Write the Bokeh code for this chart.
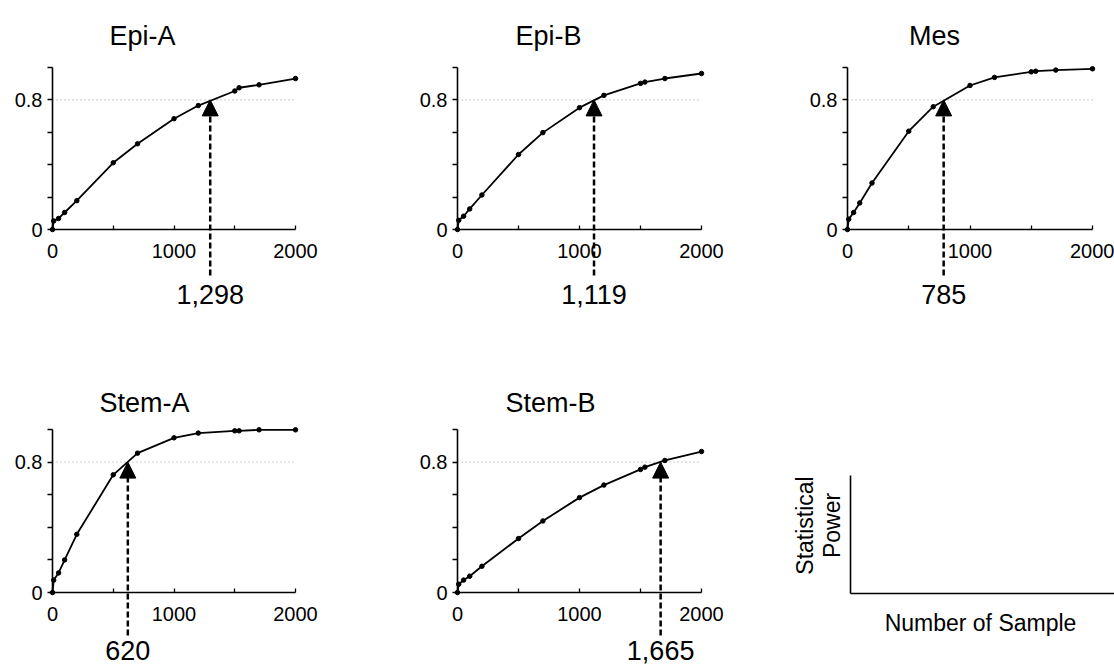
import math
from bokeh.plotting import figure
from bokeh.models import Range1d, LinearAxis, FixedTicker, Label, Arrow, NormalHead
from bokeh.layouts import row, column
from bokeh.embed import file_html
from bokeh.resources import INLINE

# ---------------- data ----------------
PANEL_NAMES = ["Epi-A", "Epi-B", "Mes", "Stem-A", "Stem-B"]
SAMPLE_SIZES = [0, 10, 50, 100, 200, 500, 700, 1000, 1200, 1500, 1536, 1700, 2000]
POWER_EPI_A = [0, 0.053, 0.068, 0.105, 0.178, 0.412, 0.529, 0.684, 0.765, 0.855, 0.875, 0.893, 0.932]
POWER_EPI_B = [0, 0.057, 0.082, 0.127, 0.213, 0.463, 0.598, 0.752, 0.828, 0.902, 0.910, 0.932, 0.963]
POWER_MES = [0, 0.064, 0.105, 0.164, 0.287, 0.607, 0.758, 0.889, 0.939, 0.973, 0.977, 0.984, 0.992]
POWER_STEM_A = [0, 0.076, 0.120, 0.200, 0.357, 0.722, 0.855, 0.949, 0.978, 0.992, 0.992, 0.998, 0.998]
POWER_STEM_B = [0, 0.051, 0.076, 0.100, 0.161, 0.331, 0.439, 0.582, 0.659, 0.755, 0.769, 0.810, 0.865]
POWER_SERIES = [POWER_EPI_A, POWER_EPI_B, POWER_MES, POWER_STEM_A, POWER_STEM_B]
THRESHOLD_SAMPLES = [1298, 1119, 785, 620, 1665]
THRESHOLD_LABELS = ["1,298", "1,119", "785", "620", "1,665"]
POWER_LEVEL = 0.8
X_MAJOR_TICKS = [0, 1000, 2000]
X_MINOR_TICKS = [500, 1500]
Y_MAJOR_TICKS = [0, 0.8]
Y_MINOR_TICKS = [0.2, 0.4, 0.6, 1.0]
X_BOUNDS = (0, 2000)
Y_BOUNDS = (0, 1.0)
LEGEND_Y_TITLE = ["Statistical", "Power"]
LEGEND_X_TITLE = "Number of Sample"

# ---------------- layout (pixels, picture coordinates) ----------------
FONT = "Liberation Sans"
COL_LEFT = [0, 371, 742]
COL_W = [371, 371, 372]
ROW_TOP = [0, 330]
ROW_H = [330, 339]
X0_PX = [52, 457, 847]
X2000_PX = [295, 701, 1092]
Y0_PX = [229, 592]
Y1_PX = [67, 429]
TITLE_CX = [142, 548, 934, 144, 550]
TITLE_BASE = [35, 402]
ARROW_TAIL_PX = [46, 43]
THR_LABEL_PX = [65, 58]
PANEL_POS = [(0, 0), (0, 1), (0, 2), (1, 0), (1, 1)]


def base_fig(r, c, xr, yr):
    p = figure(width=COL_W[c], height=ROW_H[r], output_backend="svg", toolbar_location=None,
               x_range=xr, y_range=yr, x_axis_location=None, y_axis_location=None,
               min_border=0, outline_line_color=None, tools="")
    p.grid.visible = False
    return p


def make_panel(i):
    r, c = PANEL_POS[i]
    sx = (X2000_PX[c] - X0_PX[c]) / (X_BOUNDS[1] - X_BOUNDS[0])
    sy = (Y0_PX[r] - Y1_PX[r]) / (Y_BOUNDS[1] - Y_BOUNDS[0])
    x_start = -(X0_PX[c] - COL_LEFT[c]) / sx
    x_end = x_start + COL_W[c] / sx
    y_end = Y_BOUNDS[1] + (Y1_PX[r] - ROW_TOP[r]) / sy
    y_start = -(ROW_TOP[r] + ROW_H[r] - Y0_PX[r]) / sy
    p = base_fig(r, c, Range1d(x_start, x_end), Range1d(y_start, y_end))

    xa = LinearAxis(fixed_location=0, bounds=X_BOUNDS,
                    ticker=FixedTicker(ticks=X_MAJOR_TICKS, minor_ticks=X_MINOR_TICKS))
    xa.major_tick_in = 4
    xa.major_tick_out = 0
    xa.minor_tick_in = 4
    xa.minor_tick_out = 0
    xa.axis_line_width = 1.6
    xa.major_tick_line_width = 1.3
    xa.minor_tick_line_width = 1.3
    xa.major_label_standoff = 14
    xa.major_label_text_font = FONT
    xa.major_label_text_font_size = "20px"
    xa.major_label_text_color = "black"
    p.add_layout(xa, "below")

    ya = LinearAxis(fixed_location=0, bounds=Y_BOUNDS,
                    ticker=FixedTicker(ticks=Y_MAJOR_TICKS, minor_ticks=Y_MINOR_TICKS))
    ya.major_tick_in = 0
    ya.major_tick_out = 5
    ya.minor_tick_in = 0
    ya.minor_tick_out = 5
    ya.axis_line_width = 1.6
    ya.major_tick_line_width = 1.3
    ya.minor_tick_line_width = 1.3
    ya.major_label_standoff = 5
    ya.major_label_text_font = FONT
    ya.major_label_text_font_size = "20px"
    ya.major_label_text_color = "black"
    p.add_layout(ya, "left")

    # 0.8 reference line
    p.segment(x0=[X_BOUNDS[0]], y0=[POWER_LEVEL], x1=[X_BOUNDS[1]], y1=[POWER_LEVEL],
              line_color="#9a9a9a", line_dash="1 3", line_width=1)

    p.line(SAMPLE_SIZES, POWER_SERIES[i], line_color="black", line_width=1.8)
    p.scatter(SAMPLE_SIZES, POWER_SERIES[i], size=4.5, color="black")

    thr = THRESHOLD_SAMPLES[i]
    p.add_layout(Arrow(end=NormalHead(size=16, fill_color="black", line_color="black", line_width=1),
                       x_start=thr, y_start=-ARROW_TAIL_PX[r] / sy, x_end=thr, y_end=POWER_LEVEL,
                       line_color="black", line_width=2.5, line_dash="6 3"))

    p.add_layout(Label(x=thr, y=-THR_LABEL_PX[r] / sy, text=THRESHOLD_LABELS[i],
                       text_align="center", text_baseline="middle", text_font=FONT,
                       text_font_size="27px", text_color="black"))

    p.add_layout(Label(x=(TITLE_CX[i] - X0_PX[c]) / sx, y=(Y0_PX[r] - TITLE_BASE[r]) / sy,
                       text=PANEL_NAMES[i], text_align="center", text_baseline="alphabetic",
                       text_font=FONT, text_font_size="27px", text_color="black"))
    return p


def make_legend():
    r, c = 1, 2
    p = base_fig(r, c, Range1d(0, COL_W[c]), Range1d(ROW_H[r], 0))
    ax_x = 850 - COL_LEFT[c]
    ax_bottom = 593 - ROW_TOP[r]
    ax_top = 475 - ROW_TOP[r]

    xa = LinearAxis(fixed_location=ax_bottom, bounds=(ax_x, COL_W[c]), ticker=FixedTicker(ticks=[]))
    ya = LinearAxis(fixed_location=ax_x, bounds=(ax_top, ax_bottom), ticker=FixedTicker(ticks=[]))
    for ax in (xa, ya):
        ax.axis_line_width = 1.6
        ax.major_tick_in = 0
        ax.major_tick_out = 0
        ax.minor_tick_in = 0
        ax.minor_tick_out = 0
    p.add_layout(xa, "below")
    p.add_layout(ya, "left")

    for txt, px in zip(LEGEND_Y_TITLE, [804, 831]):
        p.add_layout(Label(x=px - COL_LEFT[c], y=525 - ROW_TOP[r], text=txt, angle=math.pi / 2,
                           text_align="center", text_baseline="middle", text_font=FONT,
                           text_font_size="23px", text_color="black"))
    p.add_layout(Label(x=980 - COL_LEFT[c], y=622 - ROW_TOP[r], text=LEGEND_X_TITLE,
                       text_align="center", text_baseline="middle", text_font=FONT,
                       text_font_size="23px", text_color="black"))
    return p


panels = [make_panel(i) for i in range(len(PANEL_NAMES))]
layout = column(row(panels[0], panels[1], panels[2]), row(panels[3], panels[4], make_legend()))

open("out.html", "w").write(file_html(layout, INLINE))
